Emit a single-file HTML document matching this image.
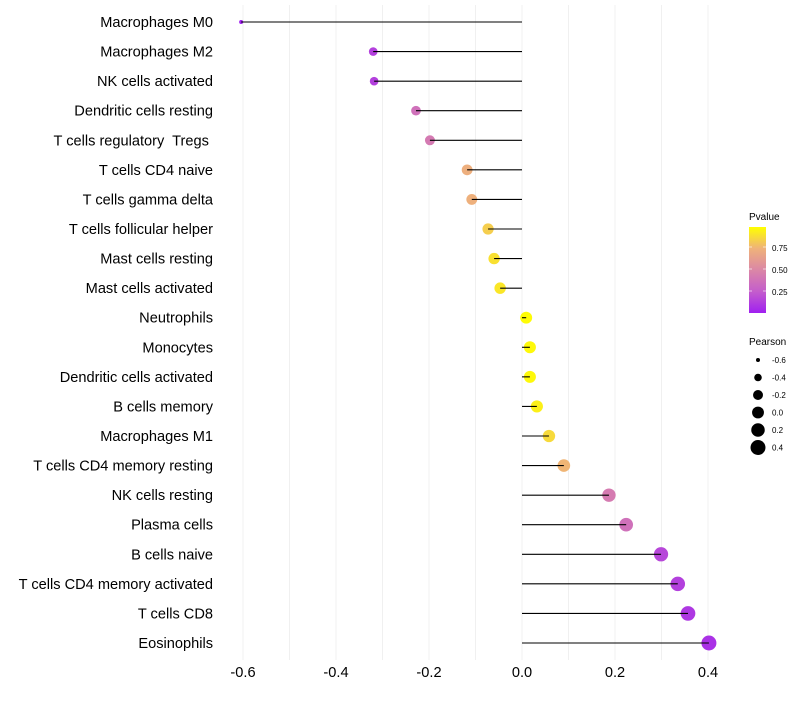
<!DOCTYPE html>
<html><head><meta charset="utf-8"><style>
body{margin:0;background:#fff;font-family:"Liberation Sans",Arial,sans-serif}
text{white-space:pre}
</style></head><body>
<svg id="chart" width="800" height="700" xmlns="http://www.w3.org/2000/svg" font-family="Liberation Sans, Arial, sans-serif">
<defs><linearGradient id="pg" x1="0" y1="1" x2="0" y2="0">
<stop offset="0" stop-color="#a020f0"/><stop offset="0.25" stop-color="#c45dcc"/><stop offset="0.5" stop-color="#db87a6"/><stop offset="0.75" stop-color="#efb27a"/><stop offset="1" stop-color="#ffff00"/></linearGradient></defs>
<g id="grid"></g>
<g id="marks"></g>
<g id="ylabels"></g>
<g id="xlabels"></g>
<g>
<text x="749" y="220" font-size="10" fill="#000">Pvalue</text>
<rect x="749" y="227" width="17" height="86" fill="url(#pg)"/>
<g stroke="#fff" stroke-opacity="0.6"><line x1="749" x2="752" y1="247" y2="247"/><line x1="763" x2="766" y1="247" y2="247"/><line x1="749" x2="752" y1="269" y2="269"/><line x1="763" x2="766" y1="269" y2="269"/><line x1="749" x2="752" y1="291" y2="291"/><line x1="763" x2="766" y1="291" y2="291"/></g>
<text x="772" y="251" font-size="8">0.75</text><text x="772" y="273" font-size="8">0.50</text><text x="772" y="295" font-size="8">0.25</text>
</g>
<g id="sizeleg">
<text x="749" y="345" font-size="10">Pearson</text>
</g>
</svg>
<script>
const categories=["Macrophages M0","Macrophages M2","NK cells activated","Dendritic cells resting","T cells regulatory  Tregs ","T cells CD4 naive","T cells gamma delta","T cells follicular helper","Mast cells resting","Mast cells activated","Neutrophils","Monocytes","Dendritic cells activated","B cells memory","Macrophages M1","T cells CD4 memory resting","NK cells resting","Plasma cells","B cells naive","T cells CD4 memory activated","T cells CD8","Eosinophils"];
const pearson=[-0.604,-0.32,-0.318,-0.228,-0.198,-0.118,-0.108,-0.073,-0.06,-0.047,0.009,0.017,0.017,0.032,0.058,0.09,0.187,0.224,0.299,0.335,0.357,0.402];
const pvalue=[0.0,0.13,0.13,0.37,0.42,0.73,0.74,0.84,0.9,0.92,0.99,0.98,0.98,0.95,0.88,0.76,0.43,0.37,0.16,0.13,0.1,0.07];
const xTicks=[-0.6,-0.4,-0.2,0.0,0.2,0.4];
const xTickLabels=["-0.6","-0.4","-0.2","0.0","0.2","0.4"];
const sizeLegend=[-0.6,-0.4,-0.2,0.0,0.2,0.4];
const NS="http://www.w3.org/2000/svg";
function x(v){return 522+v*465;}
function y(i){return 22+i*(621/21);}
function r(v){return Math.sqrt(4+Math.max(0,(v+0.6))*52);}
const stops=[[0,[160,32,240]],[0.25,[196,93,204]],[0.5,[219,135,166]],[0.75,[239,178,122]],[1,[255,255,0]]];
function col(p){for(let k=0;k<stops.length-1;k++){const a=stops[k],b=stops[k+1];if(p<=b[0]){const t=(p-a[0])/(b[0]-a[0]);return "rgb("+a[1].map((c,j)=>Math.round(c+(b[1][j]-c)*t)).join(",")+")";}}return "rgb(255,255,0)";}
function mk(t,at,parent){const e=document.createElementNS(NS,t);for(const k in at)e.setAttribute(k,at[k]);parent.appendChild(e);return e;}
const grid=document.getElementById('grid');
for(let g=-0.6;g<=0.41;g+=0.1){const l=mk('line',{x1:x(g),x2:x(g),y1:5,y2:660,stroke:'#f0f0f0','stroke-width':1},grid);

}
const marks=document.getElementById('marks'),yl=document.getElementById('ylabels'),xl=document.getElementById('xlabels');
categories.forEach((c,i)=>{
const pt=mk('circle',{cx:x(pearson[i]),cy:y(i),r:r(pearson[i]),fill:col(pvalue[i])},marks);


const ln=mk('line',{x1:x(0),x2:x(pearson[i]),y1:y(i),y2:y(i),stroke:'#000','stroke-width':1.1},marks);


const t=mk('text',{x:213,y:y(i)+5,'text-anchor':'end','font-size':14.6,fill:'#000'},yl);t.textContent=c;


});
xTicks.forEach((v,i)=>{const t=mk('text',{x:x(v),y:677,'text-anchor':'middle','font-size':14.6,fill:'#000'},xl);t.textContent=xTickLabels[i];

});
const sl=document.getElementById('sizeleg');
sizeLegend.forEach((v,i)=>{const cy=360+i*17.5;
const c=mk('circle',{cx:758,cy:cy,r:r(v),fill:'#000'},sl);


const t=mk('text',{x:772,y:cy+3,'font-size':8},sl);t.textContent=v.toFixed(1);

});
</script>
</body></html>
